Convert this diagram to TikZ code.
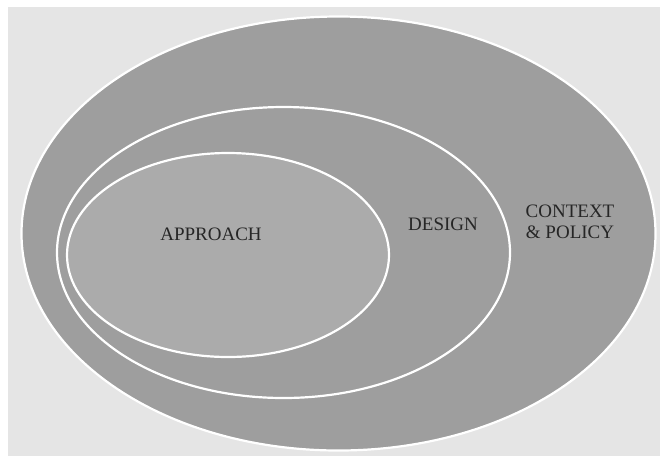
\documentclass[tikz,border=0pt]{standalone}
\usepackage{fontspec}
\setmainfont{Liberation Serif}
\definecolor{bgwhite}{HTML}{FFFFFF}
\definecolor{bggrey}{HTML}{E5E5E5}
\definecolor{ringgrey}{HTML}{9E9E9E}
\definecolor{coregrey}{HTML}{ABABAB}
\definecolor{labelgrey}{HTML}{262626}
\tikzset{
  ring/.style={draw=white, line width=2.2pt, fill=ringgrey},
  core/.style={draw=white, line width=2.2pt, fill=coregrey},
  lbl/.style={text=labelgrey, font=\fontsize{19}{20.5}\selectfont, align=center, inner sep=0pt}
}
\begin{document}
\begin{tikzpicture}[x=1pt,y=-1pt]
  \fill[bgwhite] (0,0) rectangle (660,456);
  \useasboundingbox (0,0) rectangle (660,456);
  \fill[bggrey] (8,7) rectangle (660,456);
  \draw[ring] (338.5,233.5) ellipse [x radius=317, y radius=217];
  \draw[ring] (283.5,252.5) ellipse [x radius=226.5, y radius=145.5];
  \draw[core] (228,255) ellipse [x radius=161, y radius=102];
  \node[lbl] (approach) at (211,234) {APPROACH};
  \node[lbl] (design) at (443,224) {DESIGN};
  \node[lbl] (context) at (570,222) {CONTEXT\\\& POLICY};
\end{tikzpicture}
\end{document}
